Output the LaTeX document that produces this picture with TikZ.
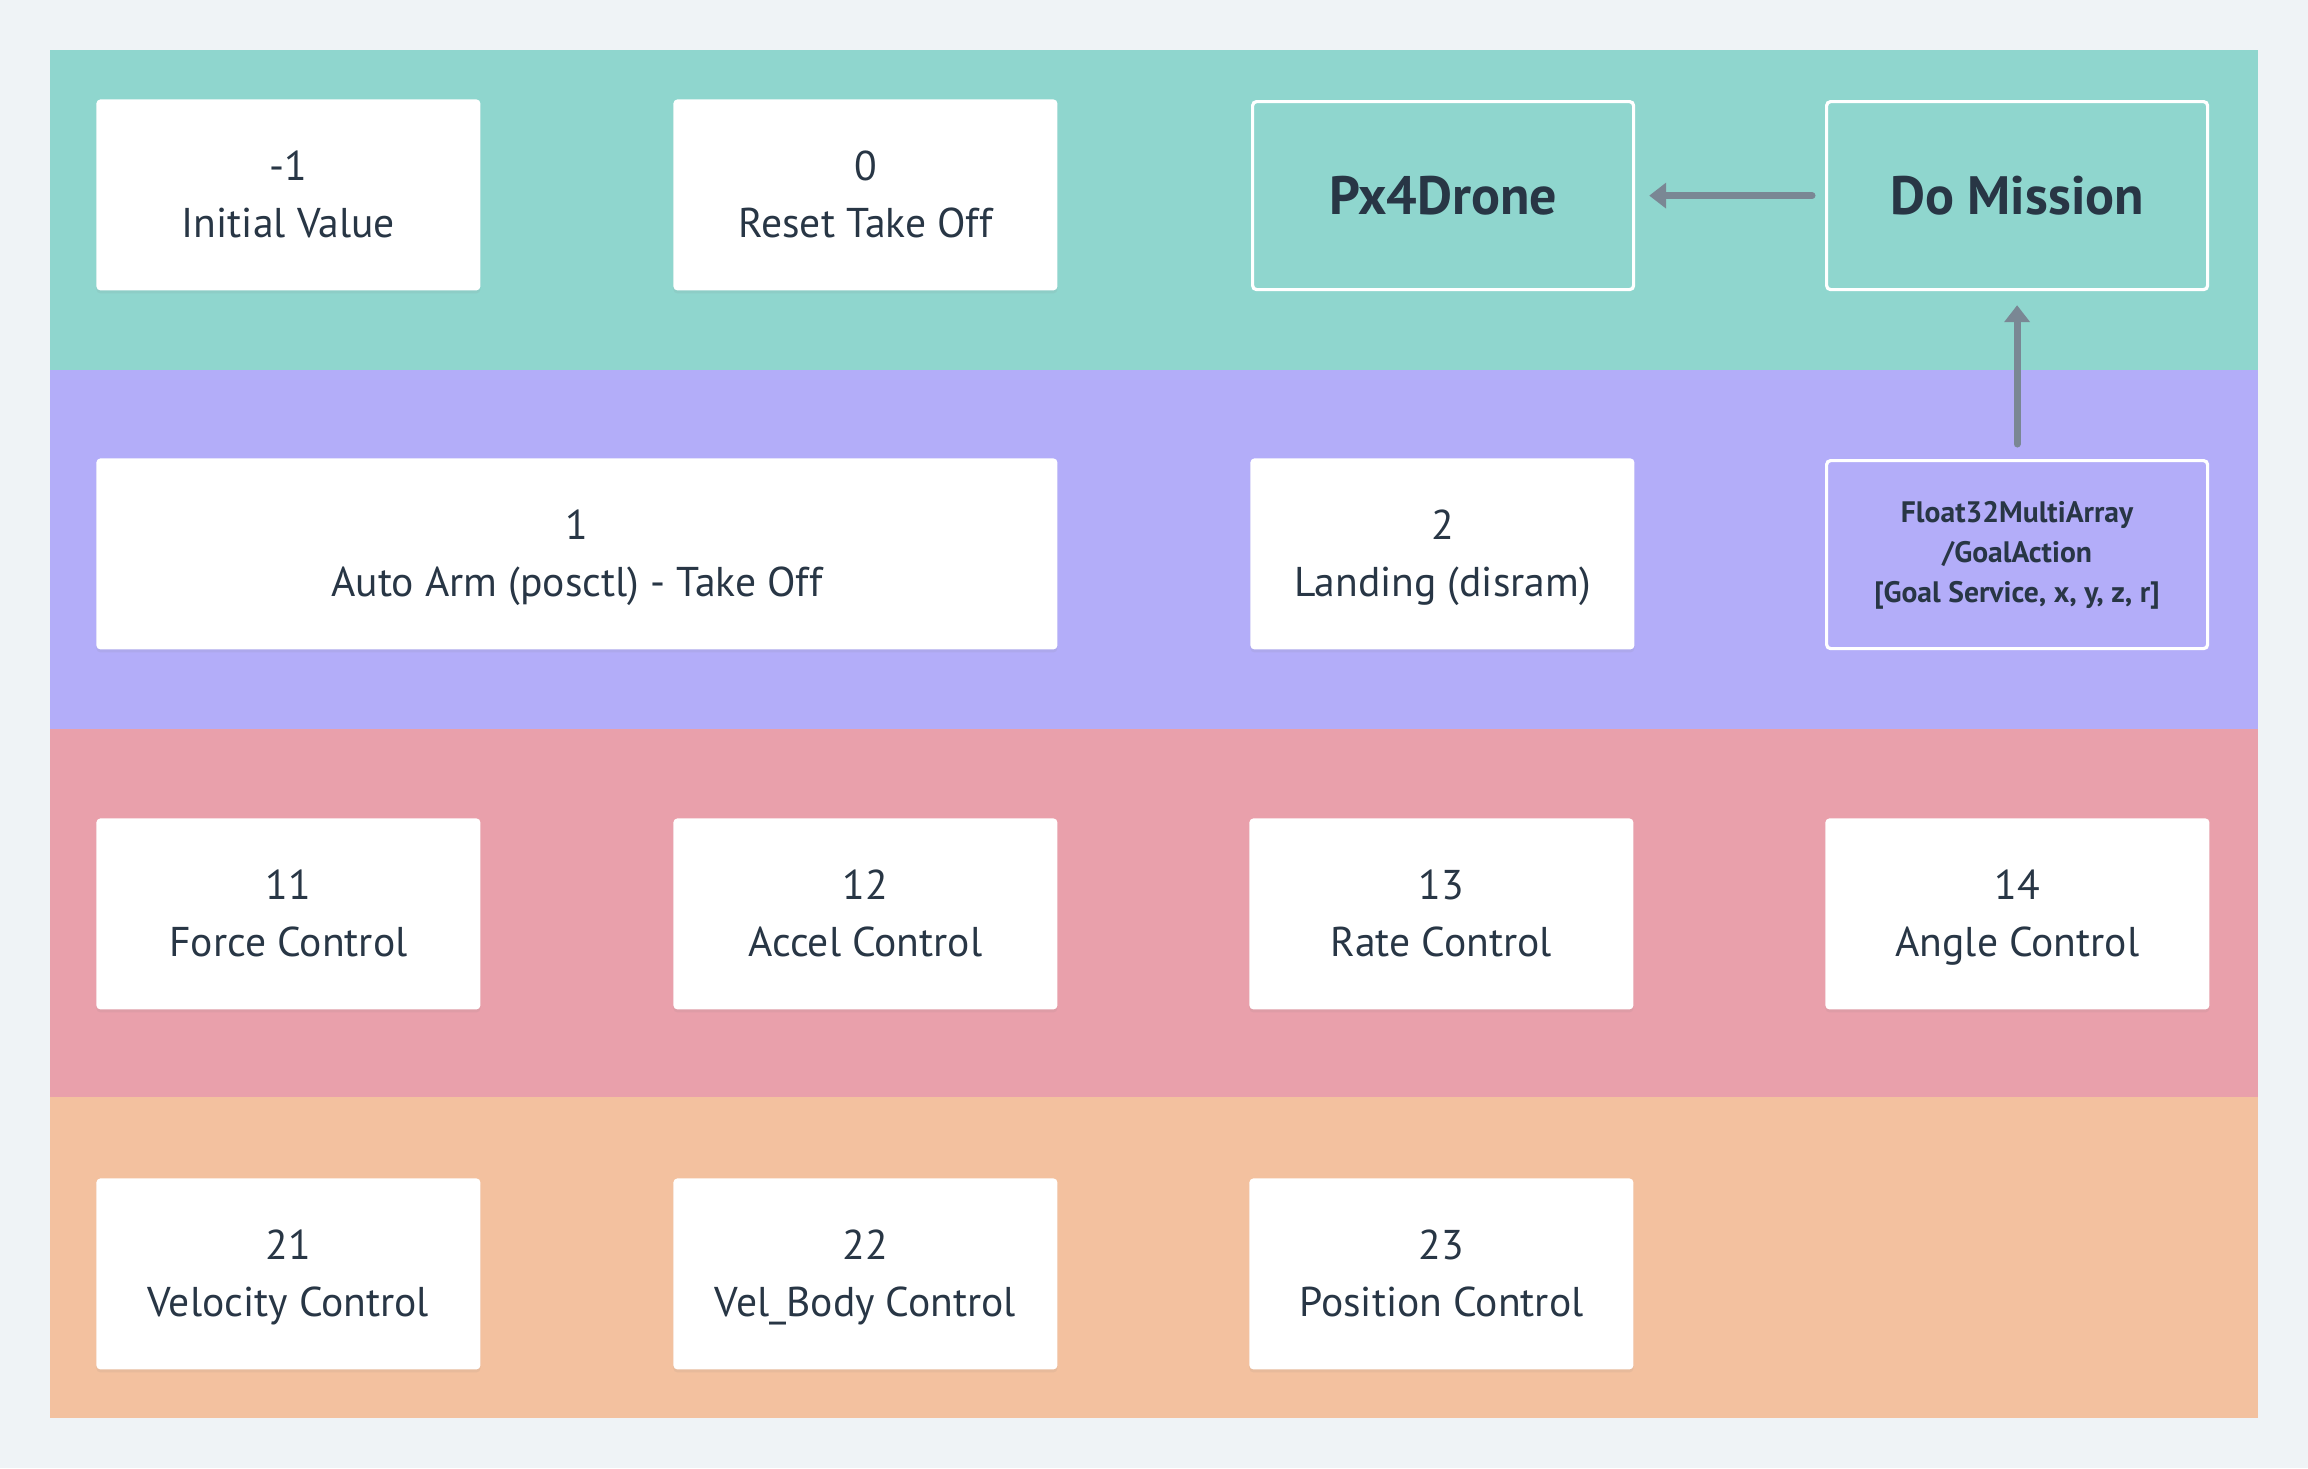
\documentclass[tikz,border=0pt]{standalone}
\usepackage{fontspec}
\setmainfont{PT Sans}
\usetikzlibrary{shadows,arrows.meta}
\definecolor{bgc}{HTML}{EFF3F6}
\definecolor{teal}{HTML}{8FD6CE}
\definecolor{lilac}{HTML}{B3ADF9}
\definecolor{rose}{HTML}{E9A0AB}
\definecolor{peach}{HTML}{F3C19F}
\definecolor{ink}{HTML}{283645}
\definecolor{arrowc}{HTML}{7A8794}
\newcommand{\twoline}[2]{\rule{0pt}{23pt}#1\\#2\strut}
\tikzset{
  card/.style={draw=none, fill=white, rounded corners=2pt, anchor=north west,
    minimum width=192pt, minimum height=95.5pt, align=center, text=ink,
    font=\fontsize{20.8}{28.5}\selectfont, inner sep=0pt,
    drop shadow={opacity=0.10, shadow xshift=0pt, shadow yshift=-1.5pt}},
  widecard/.style={card, minimum width=480.5pt},
  outlined/.style={draw=white, line width=1.6pt, rounded corners=2pt, anchor=north west,
    minimum width=190.5pt, minimum height=94pt, align=center, text=ink, inner sep=0pt},
  bigbold/.style={font=\fontsize{27}{30}\selectfont\bfseries},
  smallbold/.style={font=\fontsize{14.8}{20}\selectfont\bfseries},
  conn/.style={draw=arrowc, line width=3.5pt, line cap=round,
    -{Triangle[width=12.5pt,length=8.5pt]}},
}
\begin{document}
\begin{tikzpicture}[x=0.5pt,y=-0.5pt]
\useasboundingbox (0,0) rectangle (2308,1468);
\fill[bgc] (0,0) rectangle (2308,1468);
\fill[teal]   (50,50)    rectangle (2258,370);
\fill[lilac]  (50,370)   rectangle (2258,729);
\fill[rose]   (50,729)   rectangle (2258,1097);
\fill[peach]  (50,1097)  rectangle (2258,1418);
% row 1
\node[card] (init) at (96,99) {\twoline{-1}{Initial Value}};
\node[card] (reset) at (673,99) {\twoline{0}{Reset Take Off}};
\node[outlined, bigbold] (px4) at (1251,100) {Px4Drone};
\node[outlined, bigbold] (mission) at (1825,100) {Do Mission};
% row 2
\node[widecard] (arm) at (96,458) {\twoline{1}{Auto Arm (posctl) - Take Off}};
\node[card] (land) at (1250,458) {\twoline{2}{Landing (disram)}};
\node[outlined, smallbold] (goal) at (1825,459) {\strut Float32MultiArray\\/GoalAction\\{[}Goal Service, x, y, z, r{]}\strut};
% row 3
\node[card] (force) at (96,818) {\twoline{11}{Force Control}};
\node[card] (accel) at (673,818) {\twoline{12}{Accel Control}};
\node[card] (rate) at (1249,818) {\twoline{13}{Rate Control}};
\node[card] (angle) at (1825,818) {\twoline{14}{Angle Control}};
% row 4
\node[card] (vel) at (96,1178) {\twoline{21}{Velocity Control}};
\node[card] (velbody) at (673,1178) {\twoline{22}{Vel\_Body Control}};
\node[card] (pos) at (1249,1178) {\twoline{23}{Position Control}};
% connectors
\draw[conn, shorten <=6.5pt, shorten >=7pt] (mission.west) -- (px4.east);
\draw[conn, shorten <=7.5pt, shorten >=7pt] (goal.north) -- (mission.south);
\end{tikzpicture}
\end{document}
